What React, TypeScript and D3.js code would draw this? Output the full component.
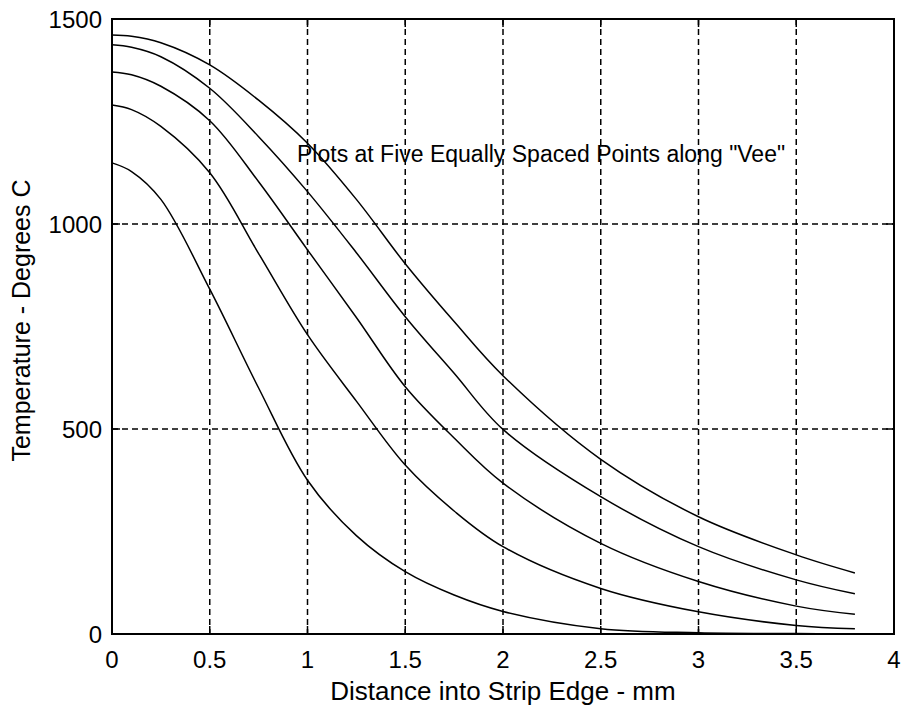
import React from "react";
import * as d3 from "d3";

const xs = [0, 0.1, 0.25, 0.5, 0.75, 1, 1.25, 1.5, 1.75, 2, 2.5, 3, 3.5, 3.8];
const curve1 = [1461, 1458, 1442, 1388, 1302, 1197, 1060, 903, 762, 630, 426, 286, 193, 149];
const curve2 = [1437, 1431, 1408, 1331, 1213, 1079, 930, 774, 636, 499, 335, 213, 132, 98];
const curve3 = [1371, 1364, 1336, 1252, 1103, 937, 772, 603, 478, 368, 221, 128, 68, 48];
const curve4 = [1290, 1279, 1238, 1125, 928, 730, 568, 412, 300, 213, 111, 54, 21, 13];
const curve5 = [1149, 1128, 1060, 841, 600, 375, 240, 152, 95, 55, 13, 3, 1, 0.5];
const seriesList = [curve1, curve2, curve3, curve4, curve5];

const xTicks = [0, 0.5, 1, 1.5, 2, 2.5, 3, 3.5, 4];
const yTicks = [0, 500, 1000, 1500];
const xGrid = [0.5, 1, 1.5, 2, 2.5, 3, 3.5];
const yGrid = [500, 1000];

const W = 903, H = 711;
const L = 112, R = 894, T = 19, B = 634;
const FONT = "'Liberation Sans', Arial, sans-serif";

export default function App() {
  const x = d3.scaleLinear().domain([0, 4]).range([L, R]);
  const y = d3.scaleLinear().domain([0, 1500]).range([B, T]);
  const line = d3
    .line<number>()
    .x((_, i) => x(xs[i]))
    .y((d) => y(d))
    .curve(d3.curveCatmullRom.alpha(0.5));

  return (
    <svg
      width={W}
      height={H}
      style={{ position: "absolute", left: 0, top: 0, background: "#fff" }}
      fontFamily={FONT}
    >
      <rect x={0} y={0} width={W} height={H} fill="#fff" />
      {xGrid.map((v) => (
        <line key={"gx" + v} x1={x(v)} x2={x(v)} y1={T} y2={B} stroke="#000" strokeWidth={1.5} strokeDasharray="6,4" />
      ))}
      {yGrid.map((v) => (
        <line key={"gy" + v} x1={L} x2={R} y1={y(v)} y2={y(v)} stroke="#000" strokeWidth={1.5} strokeDasharray="6,4" />
      ))}
      {xTicks.map((v) => (
        <g key={"tx" + v}>
          <line x1={x(v)} x2={x(v)} y1={B} y2={B - 8} stroke="#000" strokeWidth={1.5} />
          <line x1={x(v)} x2={x(v)} y1={T} y2={T + 8} stroke="#000" strokeWidth={1.5} />
          <text x={x(v)} y={668} fontSize={24} textAnchor="middle" fill="#000">
            {String(v)}
          </text>
        </g>
      ))}
      {yTicks.map((v) => (
        <g key={"ty" + v}>
          <line x1={L} x2={L + 8} y1={y(v)} y2={y(v)} stroke="#000" strokeWidth={1.5} />
          <line x1={R} x2={R - 8} y1={y(v)} y2={y(v)} stroke="#000" strokeWidth={1.5} />
          <text x={102} y={y(v) + 9} fontSize={24} textAnchor="end" fill="#000">
            {String(v)}
          </text>
        </g>
      ))}
      {seriesList.map((s, i) => (
        <path key={"s" + i} d={line(s) || ""} fill="none" stroke="#000" strokeWidth={1.5} />
      ))}
      <rect x={L} y={T} width={R - L} height={B - T} fill="none" stroke="#000" strokeWidth={2} />
      <text x={297} y={162} fontSize={23} fill="#000">
        Plots at Five Equally Spaced Points along "Vee"
      </text>
      <text x={(L + R) / 2} y={700} fontSize={26} textAnchor="middle" fill="#000">
        Distance into Strip Edge - mm
      </text>
      <text
        transform={`translate(30, ${(T + B) / 2 - 6}) rotate(-90)`}
        fontSize={25}
        textAnchor="middle"
        fill="#000"
      >
        Temperature - Degrees C
      </text>
    </svg>
  );
}
